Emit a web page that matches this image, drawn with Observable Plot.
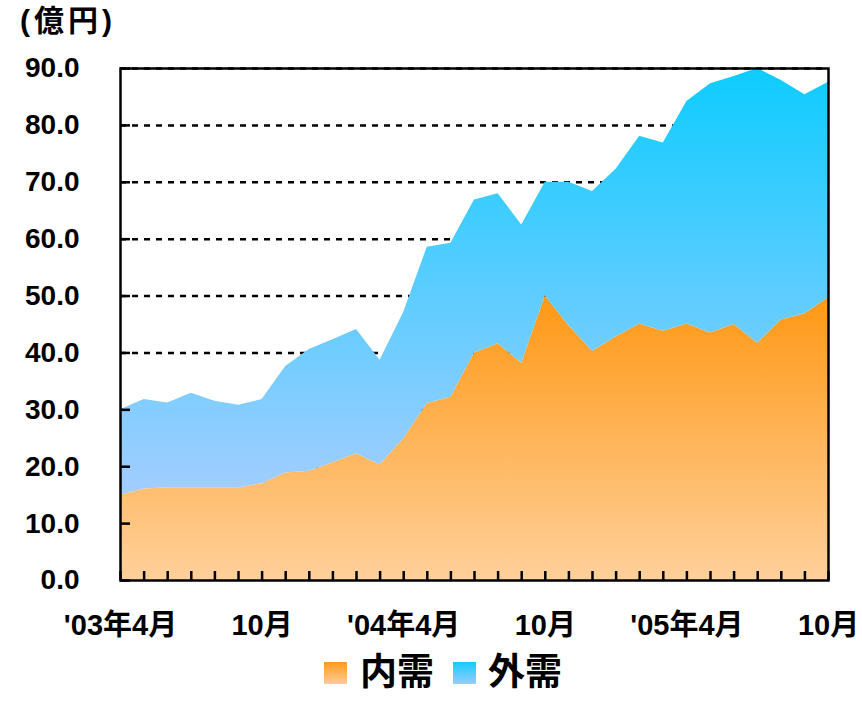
<!DOCTYPE html>
<html>
<head>
<meta charset="utf-8">
<script src="https://cdn.jsdelivr.net/npm/d3@7"></script>
<script src="https://cdn.jsdelivr.net/npm/@observablehq/plot@0.6"></script>
<style>
  html, body { margin: 0; padding: 0; background: #fff; }
  body { width: 862px; height: 703px; position: relative; overflow: hidden;
         font-family: "Liberation Sans", Arial, "Noto Sans CJK JP", sans-serif; font-weight: bold; color: #000; }
  #title { height: 40px; line-height: 42px; padding-left: 20px; font-size: 30px; letter-spacing: 4px; }
  #legend { position: absolute; left: 324px; top: 650px; height: 46px; display: flex; align-items: center; font-size: 37px; }
  .sw { width: 23px; height: 22px; }
  .lab { line-height: 46px; }
</style>
</head>
<body>
<div id="title">(億円)</div>
<div id="chart"></div>
<div id="legend">
  <div class="sw" style="background: linear-gradient(#FF9A1A, #FFCC99);"></div>
  <span class="lab" style="margin-left: 13px;">内需</span>
  <div class="sw" style="margin-left: 19px; background: linear-gradient(#15CCFF, #99CCFF);"></div>
  <span class="lab" style="margin-left: 12px;">外需</span>
</div>
<script>
// Categories (monthly, '03年4月 – '05年10月)
const months = [
  "2003-04","2003-05","2003-06","2003-07","2003-08","2003-09","2003-10","2003-11","2003-12",
  "2004-01","2004-02","2004-03","2004-04","2004-05","2004-06","2004-07","2004-08","2004-09",
  "2004-10","2004-11","2004-12","2005-01","2005-02","2005-03","2005-04","2005-05","2005-06",
  "2005-07","2005-08","2005-09","2005-10"
];
// 内需 (domestic demand), 億円
const domestic = [
  15.0, 16.1, 16.3, 16.3, 16.3, 16.3, 17.0, 18.9, 19.2,
  20.7, 22.3, 20.3, 24.9, 31.1, 32.2, 40.0, 41.6, 38.2,
  50.0, 44.8, 40.3, 42.8, 45.1, 43.8, 45.1, 43.5, 45.0,
  41.7, 45.8, 46.9, 49.7
];
// 外需 (external demand), 億円
const external = [
  15.0, 15.7, 14.9, 16.6, 15.2, 14.5, 14.8, 18.7, 21.4,
  21.6, 21.8, 18.4, 22.2, 27.5, 27.1, 26.9, 26.4, 24.3,
  20.0, 25.2, 28.1, 29.5, 33.0, 33.1, 39.1, 43.8, 43.6,
  48.3, 42.1, 38.5, 37.9
];
const yTicks = [0, 10, 20, 30, 40, 50, 60, 70, 80, 90];
const xTickMonths = ["2003-04", "2003-10", "2004-04", "2004-10", "2005-04", "2005-10"];
const xTickLabels = ["'03年4月", "10月", "'04年4月", "10月", "'05年4月", "10月"];

const table = months.map((m, i) => ({month: m, dom: domestic[i], top: domestic[i] + external[i]}));

const W = 862, H = 610, mt = 28, mb = 70, ml = 120, mr = 34;
const plotW = W - ml - mr, plotH = H - mt - mb;

const chart = Plot.plot({
  width: W, height: H,
  marginTop: mt, marginBottom: mb, marginLeft: ml, marginRight: mr,
  style: {fontFamily: '"Liberation Sans", Arial, "Noto Sans CJK JP", sans-serif', fontWeight: "bold", color: "black", background: "white", overflow: "visible"},
  x: {type: "point", domain: months, padding: 0, round: false},
  y: {domain: [0, 90]},
  marks: [
    Plot.ruleY(yTicks.filter(d => d > 0), {y: d => d, stroke: "black", strokeWidth: 2.5, strokeDasharray: "6,6"}),
    Plot.areaY(table, {x: "month", y1: 0, y2: "dom", fill: "url(#gradDom)"}),
    Plot.areaY(table, {x: "month", y1: "dom", y2: "top", fill: "url(#gradExt)"}),
    Plot.tickX(months, {x: d => d, insetTop: plotH - 9, stroke: "black", strokeWidth: 2.5}),
    Plot.tickY(yTicks, {y: d => d, insetRight: plotW - 10, stroke: "black", strokeWidth: 2.5}),
    Plot.frame({stroke: "black", strokeWidth: 2.5}),
    Plot.axisY(yTicks, {tickSize: 0, tickPadding: 41, tickFormat: d => d.toFixed(1), fontSize: 28, fontWeight: "bold", label: null}),
    Plot.axisX(xTickMonths, {tickSize: 0, tickPadding: 34, tickFormat: d => xTickLabels[xTickMonths.indexOf(d)], fontSize: 29, fontWeight: "bold", label: null})
  ]
});

const defs = d3.select(chart).insert("defs", ":first-child");
const g1 = defs.append("linearGradient").attr("id", "gradDom").attr("x1", 0).attr("y1", 0).attr("x2", 0).attr("y2", 1);
g1.append("stop").attr("offset", 0).attr("stop-color", "#FF9815");
g1.append("stop").attr("offset", 1).attr("stop-color", "#FFD09B");
const g2 = defs.append("linearGradient").attr("id", "gradExt").attr("x1", 0).attr("y1", 0).attr("x2", 0).attr("y2", 1);
g2.append("stop").attr("offset", 0).attr("stop-color", "#0ECCFF");
g2.append("stop").attr("offset", 1).attr("stop-color", "#A3CDFF");

document.getElementById("chart").appendChild(chart);
</script>
</body>
</html>
